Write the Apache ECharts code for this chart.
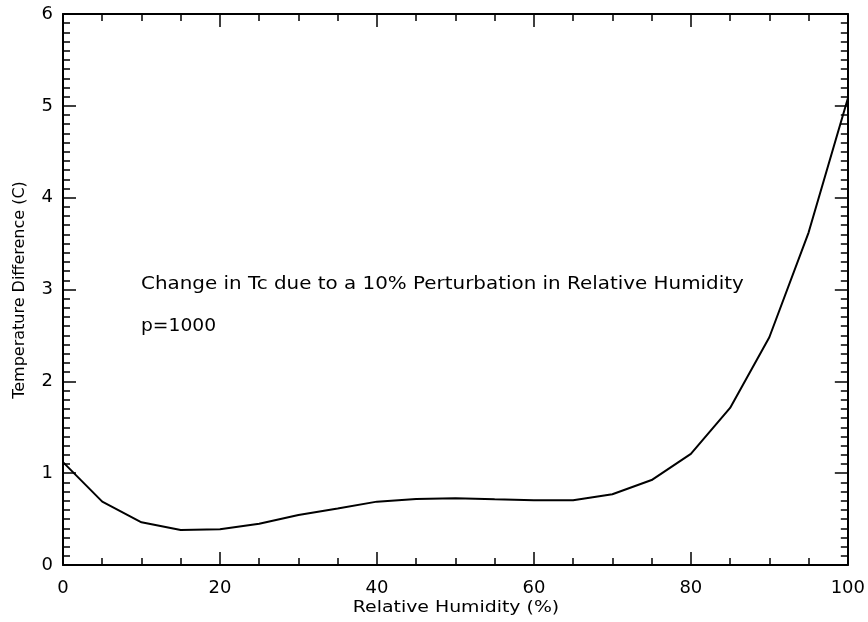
<!DOCTYPE html>
<html>
<head>
<meta charset="utf-8">
<script src="https://cdn.jsdelivr.net/npm/echarts@6/dist/echarts.min.js"></script>
<style>html,body{margin:0;padding:0;background:#fff}#c{width:868px;height:622px}</style>
</head>
<body>
<div id="c"></div>
<script>
var humidity = [0, 5, 10, 15, 20, 25, 30, 35, 40, 45, 50, 55, 60, 65, 70, 75, 80, 85, 90, 95, 100];
var tempDiff = [1.12, 0.69, 0.465, 0.38, 0.39, 0.45, 0.545, 0.615, 0.69, 0.72, 0.727, 0.715, 0.705, 0.705, 0.77, 0.925, 1.21, 1.71, 2.48, 3.62, 5.08];
var xTicks = [0, 20, 40, 60, 80, 100];
var yTicks = [0, 1, 2, 3, 4, 5, 6];
var annotations = ["Change in Tc due to a 10% Perturbation in Relative Humidity", "p=1000"];
var xTitle = "Relative Humidity (%)";
var yTitle = "Temperature Difference (C)";

var font = "DejaVu Sans";
var chart = echarts.init(document.getElementById('c'), null, {renderer: 'canvas'});
function ax(o, minorSplit) {
  return Object.assign({
    axisLine: {show: true, onZero: false, lineStyle: {color: '#000', width: 2}},
    axisTick: {show: true, inside: true, length: 13, lineStyle: {color: '#000', width: 1.5}},
    minorTick: {show: true, splitNumber: minorSplit, length: 7, lineStyle: {color: '#000', width: 1.5}},
    splitLine: {show: false},
    minorSplitLine: {show: false}
  }, o);
}
chart.setOption({
  animation: false,
  backgroundColor: '#fff',
  grid: {left: 63, right: 19, top: 14, bottom: 57, containLabel: false},
  xAxis: [
    ax({type: 'value', min: 0, max: 100, interval: 20, position: 'bottom',
      axisLabel: {color: '#000', fontFamily: font, fontSize: 18, margin: 14,
        formatter: function (v) { return xTicks.indexOf(v) >= 0 ? String(v) : ''; }}}, 4),
    ax({type: 'value', min: 0, max: 100, interval: 20, position: 'top',
      axisLabel: {show: false}}, 4)
  ],
  yAxis: [
    ax({type: 'value', min: 0, max: 6, interval: 1, position: 'left',
      axisLabel: {color: '#000', fontFamily: font, fontSize: 18, margin: 10,
        formatter: function (v) { return yTicks.indexOf(v) >= 0 ? String(v) : ''; }}}, 10),
    ax({type: 'value', min: 0, max: 6, interval: 1, position: 'right',
      axisLabel: {show: false}}, 10)
  ],
  graphic: [
    {type: 'text', x: 141, y: 276, scaleX: 1.17, style: {text: annotations[0], fill: '#000', font: '17px "' + font + '"'}},
    {type: 'text', x: 141, y: 318, scaleX: 1.1, style: {text: annotations[1], fill: '#000', font: '17px "' + font + '"'}},
    {type: 'text', x: 456, y: 608, scaleX: 1.18, style: {text: xTitle, fill: '#000', font: '16px "' + font + '"', align: 'center', verticalAlign: 'middle'}},
    {type: 'text', x: 20, y: 290, rotation: Math.PI / 2, style: {text: yTitle, fill: '#000', font: '16px "' + font + '"', align: 'center', verticalAlign: 'middle'}}
  ],
  series: [{
    type: 'line',
    data: humidity.map(function (h, i) { return [h, tempDiff[i]]; }),
    showSymbol: false,
    lineStyle: {color: '#000', width: 2},
    silent: true
  }]
});
</script>
</body>
</html>
